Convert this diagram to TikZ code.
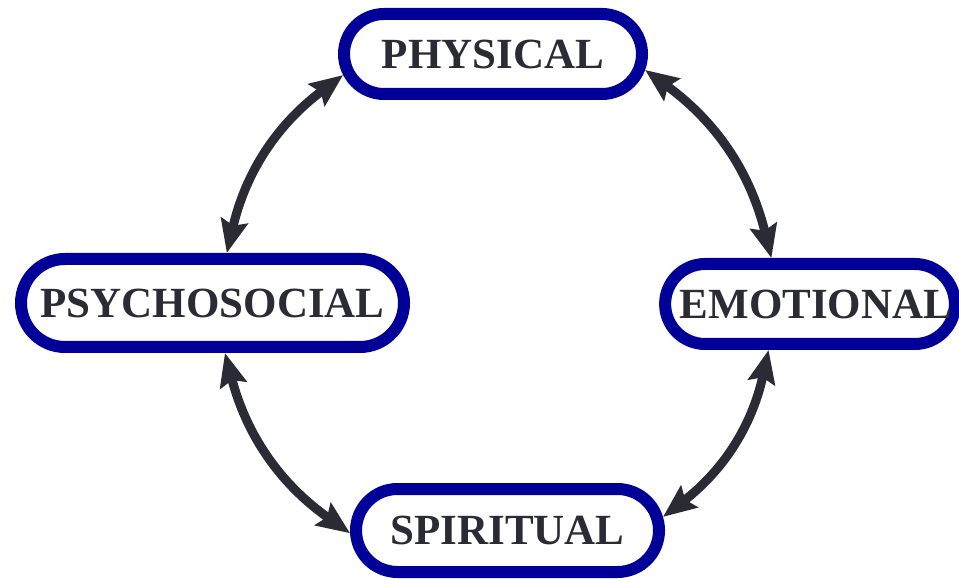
\documentclass[tikz,border=0pt]{standalone}
\usepackage{fontspec}
\setmainfont{Liberation Serif}
\usetikzlibrary{shapes.misc,arrows.meta}
\definecolor{ringblue}{HTML}{000099}
\definecolor{inkgray}{HTML}{2B2B35}
\begin{document}
\begin{tikzpicture}[x=1pt,y=1pt,
  facet/.style={rounded rectangle, draw=ringblue, line width=12pt, fill=white,
    inner sep=0pt, text=inkgray, font=\fontsize{43}{50}\selectfont\bfseries},
  link/.style={draw=inkgray, line width=9pt,
    {Stealth[length=33pt,width=27pt,inset=5pt]}-{Stealth[length=33pt,width=27pt,inset=5pt]}}]
\useasboundingbox (0,0) rectangle (959,579);
\node[facet, minimum width=298pt, minimum height=80pt] (phys) at (493,525) {PHYSICAL};
\node[facet, minimum width=282pt, minimum height=80pt] (emo) at (810,275) {\hspace{12pt}EMOTIONAL};
\node[facet, minimum width=383pt, minimum height=88pt] (psy) at (212.5,276) {PSYCHOSOCIAL};
\node[facet, minimum width=303pt, minimum height=83pt] (spi) at (507.5,48.5) {SPIRITUAL};
\draw[link] (phys.188) to[bend right=20] (psy.74);
\draw[link] (phys.-6) to[bend left=20] (emo.130);
\draw[link] (emo.228) to[bend left=20] (spi.5);
\draw[link] (psy.284) to[bend right=20] (spi.181);
\end{tikzpicture}
\end{document}
